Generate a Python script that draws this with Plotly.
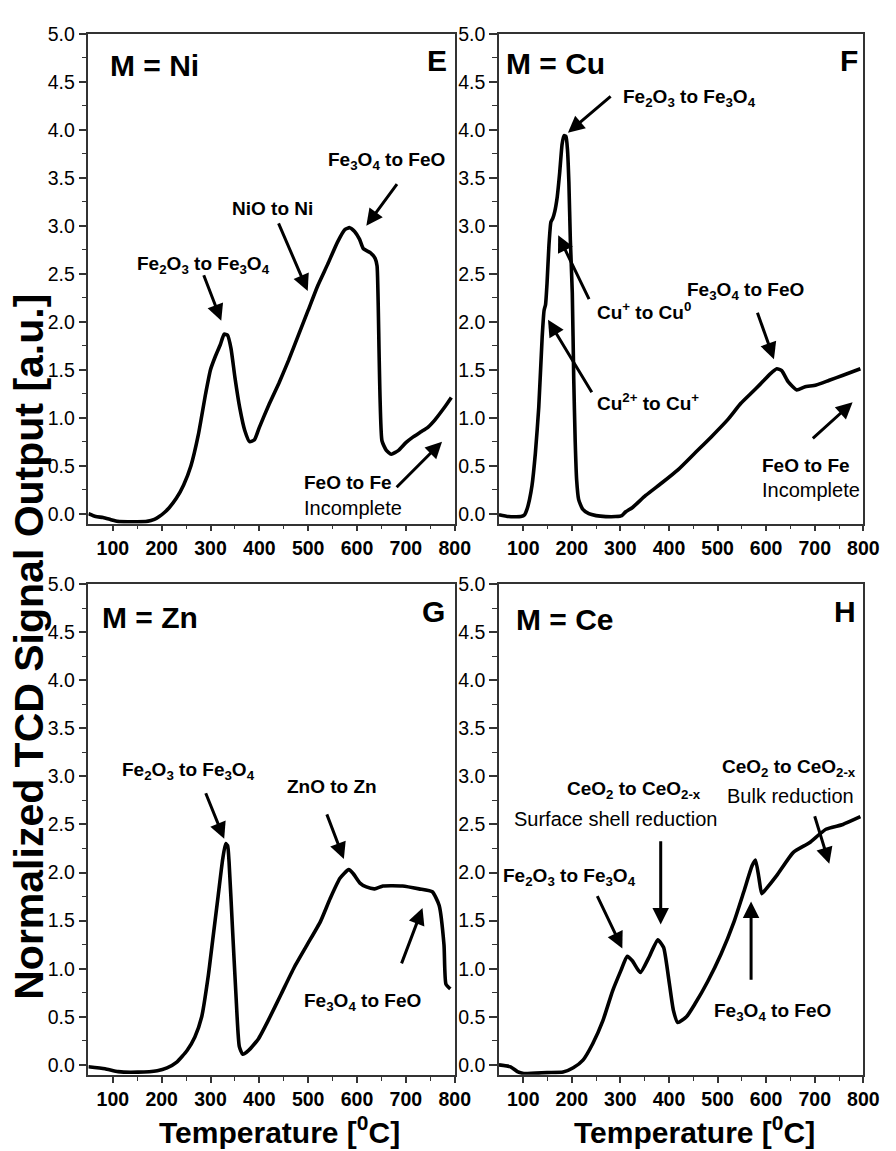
import plotly.graph_objects as go

# ---------------- TPR data (temperature in °C, normalized TCD signal) ----------------
ni_temp = [50, 65, 80, 95, 110, 130, 150, 170, 185, 195, 205, 215, 230, 245, 260, 275, 290, 300,
           310, 320, 328, 335, 342, 350, 360, 370, 380, 390, 400, 420, 440, 460, 480, 500, 520,
           540, 560, 575, 585, 595, 605, 613, 627, 637, 641, 651, 660, 670, 685, 700, 715, 730,
           745, 760, 775, 785, 793]
ni_signal = [0.00, -0.03, -0.04, -0.06, -0.08, -0.085, -0.085, -0.08, -0.06, -0.03, 0.01, 0.06,
             0.16, 0.30, 0.50, 0.82, 1.25, 1.50, 1.64, 1.76, 1.87, 1.86, 1.72, 1.42, 1.10, 0.87,
             0.75, 0.77, 0.90, 1.14, 1.36, 1.60, 1.86, 2.12, 2.38, 2.60, 2.83, 2.96, 2.98, 2.94,
             2.86, 2.76, 2.72, 2.66, 2.58, 0.76, 0.66, 0.62, 0.66, 0.74, 0.80, 0.85, 0.90, 0.98,
             1.08, 1.15, 1.21]

cu_temp = [50, 70, 95, 103, 108, 113, 118, 125, 132, 139, 143, 146, 149, 153, 157, 161, 165, 170,
           175, 180, 184, 188, 191, 194, 197, 201, 204, 207, 210, 214, 222, 235, 250, 270, 290,
           303, 311, 325, 352, 385, 419, 453, 487, 521, 548, 568, 588, 609, 622, 632, 646, 663,
           679, 703, 730, 757, 794]
cu_signal = [-0.01, -0.03, -0.03, -0.01, 0.05, 0.15, 0.29, 0.63, 1.11, 1.84, 2.12, 2.18, 2.40,
             2.80, 3.04, 3.08, 3.15, 3.30, 3.55, 3.85, 3.94, 3.93, 3.80, 3.45, 2.85, 2.30, 1.40,
             0.75, 0.35, 0.15, 0.05, 0.00, -0.02, -0.03, -0.03, -0.02, 0.02, 0.065, 0.19, 0.32,
             0.46, 0.63, 0.80, 0.98, 1.15, 1.25, 1.35, 1.46, 1.51, 1.49, 1.37, 1.29, 1.32, 1.34,
             1.39, 1.44, 1.51]

zn_temp = [50, 84, 111, 151, 191, 211, 231, 252, 268, 282, 295, 305, 315, 325, 331, 335, 338,
           345, 352, 359, 366, 378, 398, 418, 445, 471, 498, 525, 545, 565, 583, 592, 606, 619,
           636, 653, 693, 727, 754, 768, 778, 782, 791]
zn_signal = [-0.02, -0.04, -0.07, -0.075, -0.06, -0.03, 0.03, 0.15, 0.29, 0.50, 0.91, 1.32, 1.73,
             2.14, 2.30, 2.28, 2.11, 1.42, 0.74, 0.19, 0.11, 0.15, 0.27, 0.46, 0.74, 1.01, 1.25,
             1.49, 1.73, 1.94, 2.03, 1.99, 1.89, 1.85, 1.83, 1.86, 1.86, 1.83, 1.80, 1.66, 1.25,
             0.84, 0.79]

ce_temp = [50, 74, 88, 101, 149, 182, 203, 223, 243, 264, 284, 301, 314, 325, 341, 358, 377, 389,
           399, 409, 418, 436, 453, 480, 507, 534, 554, 571, 578, 585, 591, 600, 622, 656, 689,
           723, 758, 794]
ce_signal = [0.00, -0.02, -0.07, -0.09, -0.08, -0.075, -0.03, 0.05, 0.22, 0.46, 0.77, 0.98, 1.13,
             1.08, 0.96, 1.11, 1.30, 1.22, 0.91, 0.57, 0.44, 0.50, 0.63, 0.87, 1.15, 1.49, 1.80,
             2.07, 2.13, 1.95, 1.78, 1.83, 1.97, 2.21, 2.31, 2.45, 2.50, 2.58]

panel_series = [(ni_temp, ni_signal), (cu_temp, cu_signal), (zn_temp, zn_signal), (ce_temp, ce_signal)]
panel_titles = ["M = Ni", "M = Cu", "M = Zn", "M = Ce"]
panel_letters = ["E", "F", "G", "H"]

x_ticks = [100, 200, 300, 400, 500, 600, 700, 800]
y_ticks = [0.0, 0.5, 1.0, 1.5, 2.0, 2.5, 3.0, 3.5, 4.0, 4.5, 5.0]

W, H = 896, 1151
FONT = "Liberation Sans, Arial, Helvetica, sans-serif"


def px(x):
    return x / W


def py(y):
    return 1 - y / H


# subplot frames (pixels: left, right, top, bottom)
frames = [(90, 463, 23, 518), (508, 879, 23, 518), (90, 463, 579, 1075), (508, 879, 579, 1075)]

fig = go.Figure()
for i, ((tx, sy), (l, r, t, b)) in enumerate(zip(panel_series, frames)):
    n = "" if i == 0 else str(i + 1)
    fig.add_trace(go.Scatter(x=tx, y=sy, mode="lines", xaxis="x" + n, yaxis="y" + n,
                             line=dict(color="black", width=3.6, shape="spline", smoothing=0.5),
                             showlegend=False, hoverinfo="skip"))
    y_per_px = 5.0 / ((b - 10) - t)
    axis_common = dict(showgrid=False, zeroline=False, showline=True, linecolor="#333",
                       linewidth=1.5, mirror=True, ticks="outside", tickcolor="#333")
    fig.layout["xaxis" + n] = dict(
        axis_common, domain=[px(l), px(r)], range=[50, 800], anchor="y" + n,
        tickvals=x_ticks, ticklen=6, tickwidth=1.5,
        tickfont=dict(family=FONT, size=19.5, color="black", weight="bold"),
        minor=dict(ticks="outside", ticklen=4, tickvals=[150, 250, 350, 450, 550, 650, 750],
                   tickcolor="#333", tickwidth=1.2))
    fig.layout["yaxis" + n] = dict(
        axis_common, domain=[py(b), py(t)], range=[-10 * y_per_px, 5.0], anchor="x" + n,
        tickvals=y_ticks, tickformat=".1f", ticklen=8, tickwidth=1.5,
        tickfont=dict(family=FONT, size=19.5, color="black"),
        minor=dict(ticks="outside", ticklen=5, dtick=0.25, tick0=0,
                   tickcolor="#333", tickwidth=1.2))

annotations = []


def label(ax_i, x, y, text, size=19, bold=True, xanchor="center"):
    n = "" if ax_i == 0 else str(ax_i + 1)
    annotations.append(dict(x=x, y=y, xref="x" + n, yref="y" + n, text=text, showarrow=False,
                            xanchor=xanchor, yanchor="middle",
                            font=dict(family=FONT, size=size, color="black",
                                      weight="bold" if bold else "normal")))


def arrow(ax_i, tail, head):
    n = "" if ax_i == 0 else str(ax_i + 1)
    annotations.append(dict(x=head[0], y=head[1], ax=tail[0], ay=tail[1],
                            xref="x" + n, yref="y" + n, axref="x" + n, ayref="y" + n,
                            text="", showarrow=True, arrowhead=2, arrowsize=1.1,
                            arrowwidth=3, arrowcolor="black", standoff=0, startstandoff=0))


# panel titles and letters
title_pos = [(90, 4.67), (60, 4.69), (74, 4.65), (80, 4.63)]
letter_pos = [(788, 4.72), (794, 4.72), (784, 4.71), (790, 4.71)]
for i in range(4):
    label(i, title_pos[i][0], title_pos[i][1], panel_titles[i], size=30, xanchor="left")
    label(i, letter_pos[i][0], letter_pos[i][1], panel_letters[i], size=30, xanchor="right")

FE2O3 = "Fe<sub>2</sub>O<sub>3</sub> to Fe<sub>3</sub>O<sub>4</sub>"
FE3O4 = "Fe<sub>3</sub>O<sub>4</sub> to FeO"
CEO2 = "CeO<sub>2</sub> to CeO<sub>2-x</sub>"

# Ni
label(0, 285, 2.59, FE2O3)
arrow(0, (285, 2.50), (322, 2.01))
label(0, 426, 3.18, "NiO to Ni")
arrow(0, (438, 3.04), (499, 2.32))
label(0, 660, 3.67, FE3O4)
arrow(0, (684, 3.45), (619, 3.00))
label(0, 487, 0.32, "FeO to Fe", xanchor="left")
label(0, 487, 0.06, "Incomplete", size=20, bold=False, xanchor="left")
arrow(0, (678, 0.26), (774, 0.75))

# Cu
label(1, 302, 4.33, FE2O3, xanchor="left")
arrow(1, (283, 4.36), (192, 3.97))
label(1, 247, 2.11, "Cu<sup>+</sup> to Cu<sup>0</sup>", xanchor="left")
arrow(1, (237, 2.22), (172, 2.90))
label(1, 247, 1.16, "Cu<sup>2+</sup> to Cu<sup>+</sup>", xanchor="left")
arrow(1, (243, 1.25), (151, 2.02))
label(1, 557, 2.32, FE3O4)
arrow(1, (581, 2.11), (616, 1.61))
label(1, 588, 0.505, "FeO to Fe", xanchor="left")
label(1, 588, 0.247, "Incomplete", size=20, bold=False, xanchor="left")
arrow(1, (693, 0.77), (778, 1.16))

# Zn
label(2, 255, 3.06, FE2O3)
arrow(2, (289, 2.84), (328, 2.35))
label(2, 549, 2.89, "ZnO to Zn")
arrow(2, (537, 2.62), (573, 2.14))
label(2, 611, 0.65, FE3O4)
arrow(2, (690, 1.04), (734, 1.63))

# Ce
label(3, 328, 2.86, CEO2)
label(3, 289, 2.56, "Surface shell reduction", size=20, bold=False)
arrow(3, (383, 2.34), (383, 1.46))
label(3, 648, 3.09, CEO2)
label(3, 650, 2.80, "Bulk reduction", size=20, bold=False)
arrow(3, (699, 2.60), (730, 2.09))
label(3, 196, 1.95, FE2O3)
arrow(3, (251, 1.77), (304, 1.21))
label(3, 614, 0.545, FE3O4)
arrow(3, (569, 0.87), (569, 1.70))

# shared axis titles
for cx in (285, 707):
    annotations.append(dict(x=px(cx), y=py(1131), xref="paper", yref="paper",
                            text="Temperature [<sup>0</sup>C]", showarrow=False,
                            xanchor="center", yanchor="middle",
                            font=dict(family=FONT, size=30, color="black", weight="bold")))
annotations.append(dict(x=px(30), y=py(642), xref="paper", yref="paper",
                        text="Normalized TCD Signal Output [a.u.]", showarrow=False,
                        textangle=-90, xanchor="center", yanchor="middle",
                        font=dict(family=FONT, size=41, color="black", weight="bold")))

fig.update_layout(width=W, height=H, margin=dict(l=0, r=0, t=0, b=0),
                  paper_bgcolor="white", plot_bgcolor="white",
                  annotations=annotations, showlegend=False)

fig.write_html("out.html")
